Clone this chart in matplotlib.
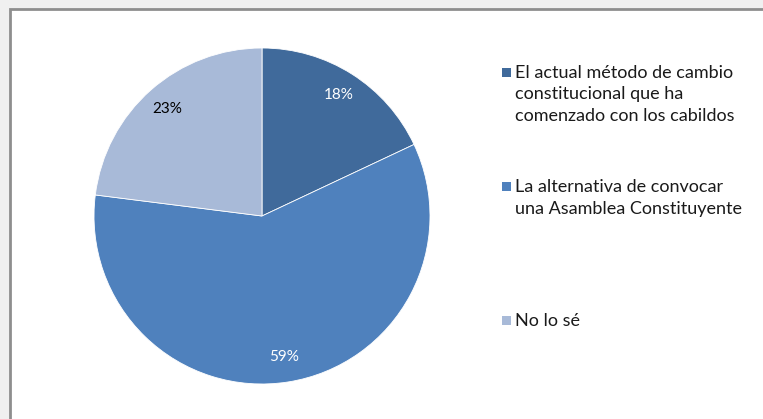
import matplotlib
matplotlib.use("Agg")
import matplotlib.pyplot as plt
from matplotlib.patches import Rectangle

categories = [
    "El actual método de cambio\nconstitucional que ha\ncomenzado con los cabildos",
    "La alternativa de convocar\nuna Asamblea Constituyente",
    "No lo sé",
]
values = [18, 59, 23]
colors = ["#406A9B", "#4F81BD", "#A8BAD8"]
label_colors = ["white", "white", "black"]

W, H = 763, 419
fig = plt.figure(figsize=(W / 100, H / 100), dpi=100)
fig.patch.set_facecolor("#F0F0F0")

# chart frame (cropped on right/bottom)
frame = Rectangle((10 / W, -0.05), 1.1, 1 - 9 / H + 0.05, transform=fig.transFigure,
                  facecolor="white", edgecolor="#8E8E8E", linewidth=2, zorder=-10)
fig.patches.append(frame)

cx, cy, r = 262, 216, 168
ax = fig.add_axes([(cx - r) / W, (H - cy - r) / H, 2 * r / W, 2 * r / H])
wedges, texts, autotexts = ax.pie(values, colors=colors, startangle=90, counterclock=False,
                                  autopct="%1.0f%%", pctdistance=0.85,
                                  wedgeprops=dict(linewidth=0.6, edgecolor="white"),
                                  textprops=dict(fontsize=11, family="Lato"))
for t, c in zip(autotexts, label_colors):
    t.set_color(c)
ax.set_xlim(-1, 1)
ax.set_ylim(-1, 1)
ax.set_aspect("equal")
ax.axis("off")

# legend entries (first-line baseline y in pixels)
baselines = [78, 192, 326]
line_step = 21.5
for lab, col, b in zip(categories, colors, baselines):
    fig.patches.append(Rectangle((502 / W, 1 - (b - 1) / H), 9 / W, 9 / H,
                                 transform=fig.transFigure, facecolor=col, edgecolor="none",
                                 zorder=5))
    for i, line in enumerate(lab.split("\n")):
        fig.text(515 / W, 1 - (b + i * line_step) / H, line, fontsize=13, family="Lato",
                 color="#1a1a1a", va="baseline", ha="left")

fig.savefig("out.png", dpi=100, facecolor=fig.get_facecolor())
